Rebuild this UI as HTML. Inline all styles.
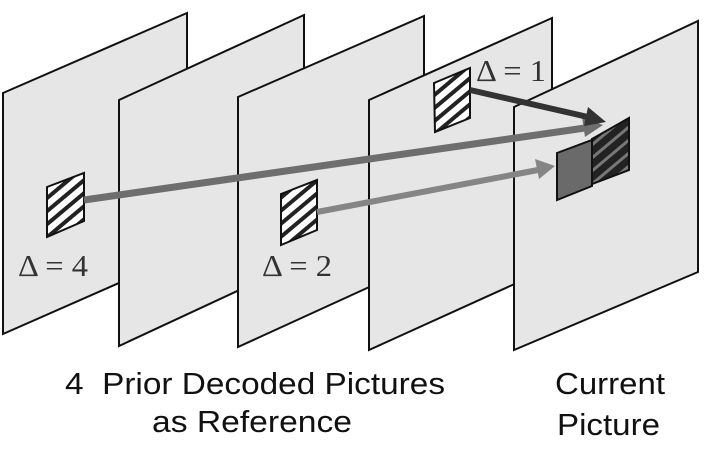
<!DOCTYPE html>
<html><head><meta charset="utf-8"><style>
html,body{margin:0;padding:0;background:#fff;}
svg{display:block;}
</style></head><body>
<svg width="705" height="449" viewBox="0 0 705 449" xmlns="http://www.w3.org/2000/svg">
<defs>
<pattern id="h1" patternUnits="userSpaceOnUse" width="10" height="10" patternTransform="rotate(-40)">
<rect width="10" height="10" fill="#fff"/><rect width="10" height="4" fill="#222"/></pattern>
<pattern id="h2" patternUnits="userSpaceOnUse" width="10" height="10" patternTransform="rotate(-40)">
<rect width="10" height="10" fill="#222"/><rect width="10" height="3" fill="#777"/></pattern>
</defs>
<g stroke="#111" stroke-width="2" fill="#e6e6e6">
<polygon points="3,93 187,13 187,253 3,334"/>
<polygon points="119,100 304,15 304,260 119,346"/>
<polygon points="238,97 424,16 424,262 238,347"/>
<polygon points="369,100 552,18 552,267 369,350"/>
<polygon points="514,107 698,21 698,272 514,350"/>
</g>
<polygon points="47,187 84,173 84,221 47,237" fill="url(#h1)" stroke="#111" stroke-width="2"/>
<polygon points="281,194 317,180 317,230 281,245" fill="url(#h1)" stroke="#111" stroke-width="2"/>
<polygon points="434,83 470,68 470,118 435,132" fill="url(#h1)" stroke="#111" stroke-width="2"/>
<polygon points="557,153 592,140 592,186 557,200" fill="#6a6a6a" stroke="#111" stroke-width="2"/>
<polygon points="592,139 629,118 629,170 592,184" fill="url(#h2)" stroke="#111" stroke-width="2"/>
<line x1="84" y1="200" x2="585" y2="128" stroke="#6e6e6e" stroke-width="7"/>
<polygon points="603,125 582,117 585,137" fill="#6e6e6e"/>
<line x1="317" y1="212" x2="538" y2="170" stroke="#858585" stroke-width="6"/>
<polygon points="555,166 535,159 539,179" fill="#858585"/>
<line x1="470" y1="90" x2="588" y2="117" stroke="#333" stroke-width="6"/>
<polygon points="606,122 588,107 584,126" fill="#333"/>
<g font-family="Liberation Serif, serif" font-size="31" fill="#333">
<text x="18" y="276" textLength="70" lengthAdjust="spacingAndGlyphs">Δ = 4</text>
<text x="262" y="276" textLength="70" lengthAdjust="spacingAndGlyphs">Δ = 2</text>
<text x="476" y="81" textLength="70" lengthAdjust="spacingAndGlyphs">Δ = 1</text>
</g>
<g font-family="Liberation Sans, sans-serif" font-size="31" fill="#111">
<text x="65" y="394" textLength="380" lengthAdjust="spacingAndGlyphs" xml:space="preserve">4  Prior Decoded Pictures</text>
<text x="152" y="432" textLength="200" lengthAdjust="spacingAndGlyphs">as Reference</text>
<text x="555" y="394" textLength="110" lengthAdjust="spacingAndGlyphs">Current</text>
<text x="557" y="435" textLength="103" lengthAdjust="spacingAndGlyphs">Picture</text>
</g>
</svg>
</body></html>
